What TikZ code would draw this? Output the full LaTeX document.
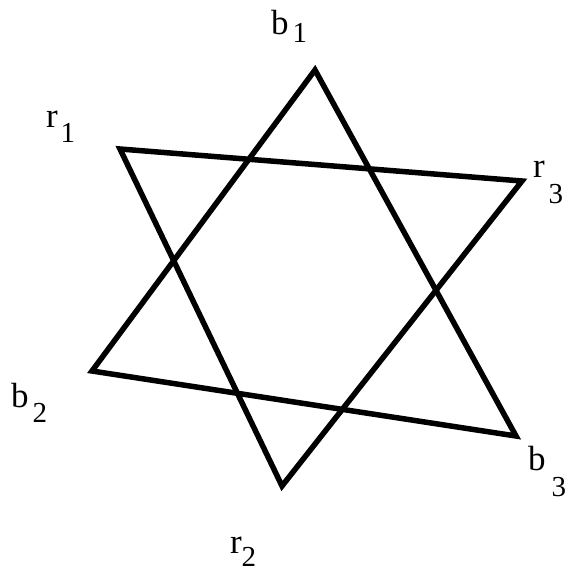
\documentclass[tikz,border=0pt]{standalone}
\usepackage{fontspec}
\setmainfont{Liberation Serif}
\newcommand{\lbl}[4]{\fontsize{35}{35}\selectfont #1\kern#3pt\raisebox{-#4pt}{\fontsize{29}{29}\selectfont #2}}
\begin{document}
\begin{tikzpicture}[x=1pt,y=-1pt,
  tri/.style={line width=5.5pt,line join=miter,black},
  lab/.style={anchor=base west,inner sep=0pt,outer sep=0pt}]
\useasboundingbox (0,0) rectangle (568,574);
\coordinate (b1) at (315,70);
\coordinate (b2) at (92,371);
\coordinate (b3) at (516,436);
\coordinate (r1) at (120,149);
\coordinate (r3) at (522,181);
\coordinate (r2) at (282,486);
\draw[tri] (b1) -- (b2) -- (b3) -- cycle;
\draw[tri] (r1) -- (r3) -- (r2) -- cycle;
\node[lab] (lb1) at (271,34) {\lbl{b}{1}{4}{8}};
\node[lab] (lr1) at (46,127) {\lbl{r}{1}{3}{15}};
\node[lab] (lr3) at (533,177) {\lbl{r}{3}{4}{26}};
\node[lab] (lb2) at (11,407) {\lbl{b}{2}{4}{15}};
\node[lab] (lb3) at (528,470) {\lbl{b}{3}{6}{26}};
\node[lab] (lr2) at (230,553) {\lbl{r}{2}{0}{13}};
\end{tikzpicture}
\end{document}
